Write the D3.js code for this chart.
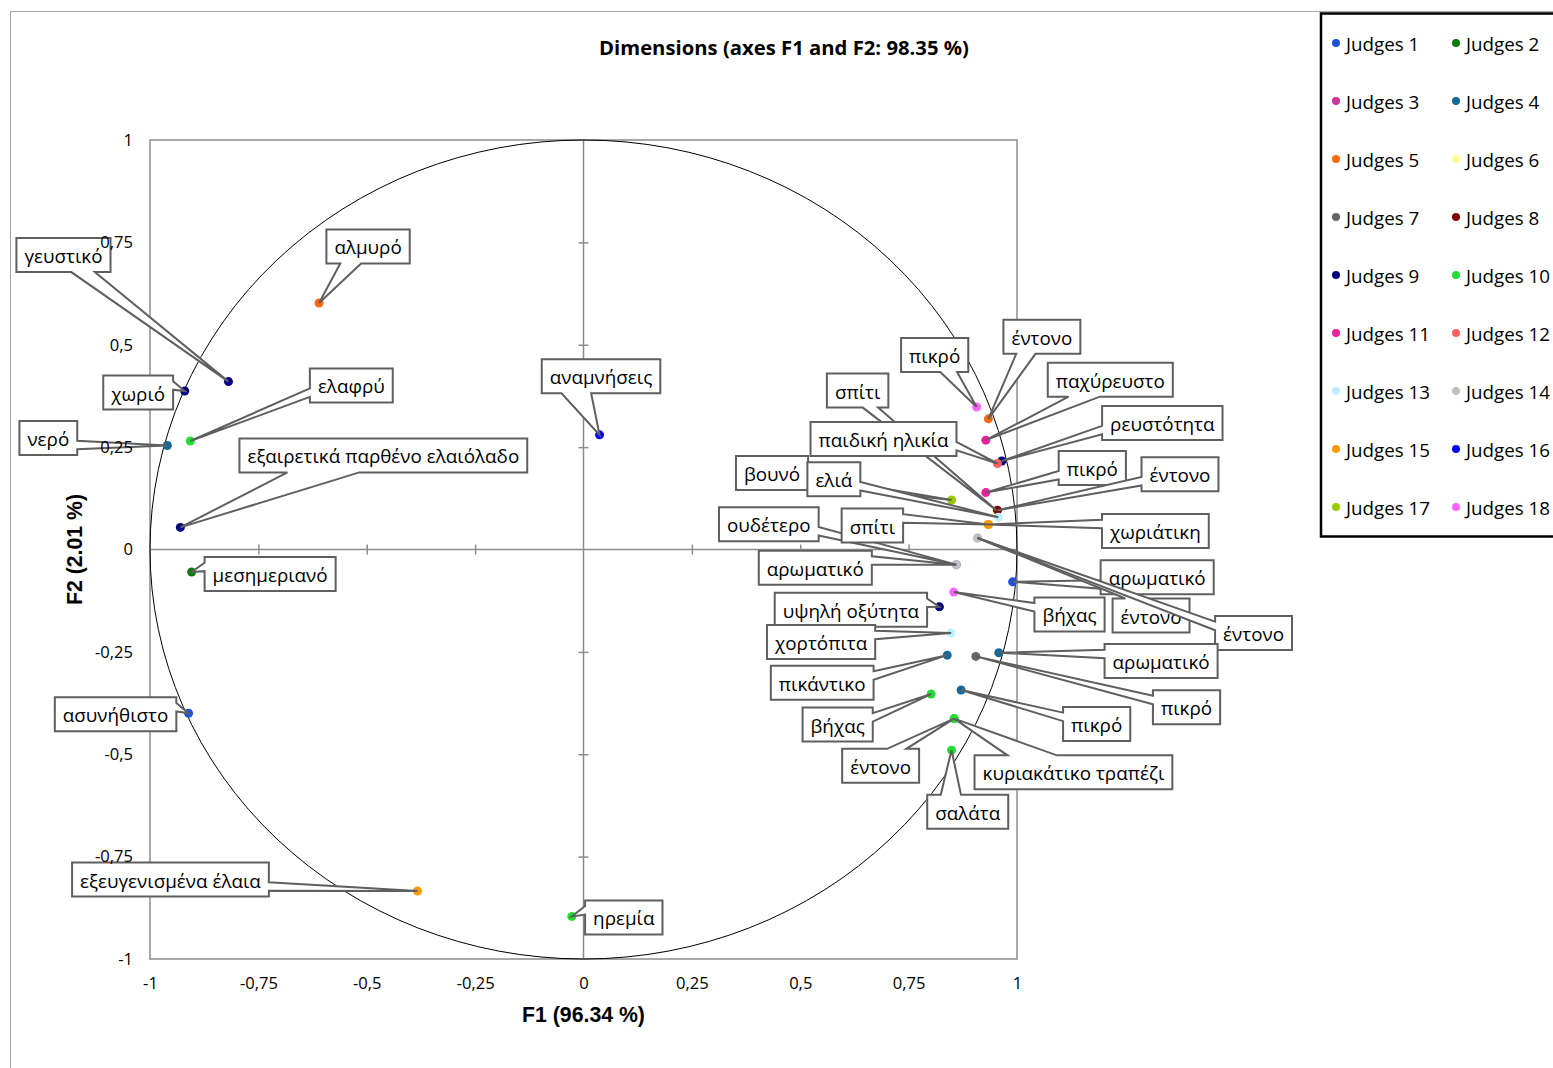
<!DOCTYPE html>
<html>
<head>
<meta charset="utf-8">
<script src="https://cdn.jsdelivr.net/npm/d3@7"></script>
<style>
  body { margin: 0; background: #fff; }
  svg { display: block; }
</style>
</head>
<body>
<div id="chart"></div>
<script>
// Judges (legend series)
const judges = ['Judges 1', 'Judges 2', 'Judges 3', 'Judges 4', 'Judges 5', 'Judges 6',
    'Judges 7', 'Judges 8', 'Judges 9', 'Judges 10', 'Judges 11', 'Judges 12',
    'Judges 13', 'Judges 14', 'Judges 15', 'Judges 16', 'Judges 17', 'Judges 18'];
const judgeColors = ['#2050e0', '#0b7b0b', '#cc3399', '#166a9a', '#ff6a10', '#ffff99',
    '#666666', '#800000', '#000080', '#22dd33', '#f0209a', '#ff6060',
    '#bbeeff', '#c0c0c0', '#ff9900', '#0000ff', '#99cc00', '#ff66ff'];

// words (one point each), the judge that gave it, and its coordinates on F1 / F2
const words = ['γευστικό', 'αλμυρό', 'χωριό', 'ελαφρύ', 'νερό', 'εξαιρετικά παρθένο ελαιόλαδο',
    'μεσημεριανό', 'ασυνήθιστο', 'εξευγενισμένα έλαια', 'ηρεμία', 'αναμνήσεις',
    'πικρό', 'έντονο', 'παχύρευστο', 'ρευστότητα', 'σπίτι', 'παιδική ηλικία', 'πικρό',
    'έντονο', 'βουνό', 'ελιά', 'ουδέτερο', 'χωριάτικη', 'σπίτι', 'αρωματικό', 'αρωματικό',
    'βήχας', 'έντονο', 'έντονο', 'υψηλή οξύτητα', 'χορτόπιτα', 'πικάντικο', 'αρωματικό',
    'πικρό', 'πικρό', 'βήχας', 'έντονο', 'κυριακάτικο τραπέζι', 'σαλάτα'];
const judgeOf = [9, 5, 9, 10, 4, 9,
    2, 1, 15, 10, 16,
    18, 5, 11, 9, 6, 12, 11,
    8, 17, 13, 3, 15, 15, 14, 1,
    18, 14, 14, 9, 13, 4, 4,
    7, 4, 10, 10, 10, 10];
const f1 = [-0.819, -0.610, -0.920, -0.907, -0.960, -0.930,
    -0.904, -0.911, -0.383, -0.027, 0.037,
    0.907, 0.934, 0.928, 0.965, 0.953, 0.955, 0.928,
    0.955, 0.849, 0.957, 0.860, 0.934, 0.934, 0.860, 0.990,
    0.854, 0.909, 0.909, 0.821, 0.848, 0.839, 0.958,
    0.905, 0.871, 0.802, 0.855, 0.855, 0.849];
const f2 = [0.410, 0.602, 0.387, 0.265, 0.254, 0.054,
    -0.055, -0.400, -0.834, -0.896, 0.280,
    0.348, 0.319, 0.267, 0.216, 0.095, 0.210, 0.139,
    0.096, 0.121, 0.079, -0.037, 0.061, 0.061, -0.037, -0.079,
    -0.104, 0.028, 0.028, -0.140, -0.204, -0.258, -0.252,
    -0.261, -0.343, -0.353, -0.413, -0.413, -0.490];

// where each callout box sits, centre relative to its point (px)
const labelOffset = [[-165, -126.5], [49, -56.5], [-46.5, 1.5], [161, -55.5], [-119, -7.5], [203, -72],
    [78.5, 2], [-73, 1], [-247, -11.5], [52, 1], [1.5, -58.5],
    [-42, -52], [53.5, -82], [124.5, -60.5], [160.5, -38], [-139, -120], [-114, -24.5], [106.5, -24.5],
    [182.5, -36], [-179.5, -27], [-164.5, -38], [-187.5, -40.5], [167, 6.5], [-116, 1], [-141, 3], [144.5, -4.5],
    [115.8, 22.3], [173.5, 77.5], [276, 95], [-88.5, 3], [-130, 9], [-125, 27.5], [162.3, 8.3],
    [210.7, 50.8], [135.6, 34], [-93.5, 30.5], [-73.5, 47.2], [119.3, 53.7], [16.2, 61.5]];

const axisTicks = [-1, -0.75, -0.5, -0.25, 0, 0.25, 0.5, 0.75, 1];
const innerTicks = [-0.75, -0.5, -0.25, 0.25, 0.5, 0.75];

const width = 1553, height = 1068;
const plot = { left: 150, right: 1017, top: 140, bottom: 959 };
const FONT = '"Open Sans", "Noto Sans", sans-serif';
const NARROW = '"Liberation Sans Narrow", "Liberation Sans", Arial, sans-serif';

const svg = d3.select('#chart').append('svg')
    .attr('width', width)
    .attr('height', height);

// pick a font size so the text gets the width it has in the reference
function fitSize(text, family, weight, target) {
    const t = svg.append('text')
        .style('font-family', family).style('font-weight', weight).style('font-size', '100px')
        .text(text);
    const w = t.node().getComputedTextLength();
    t.remove();
    return 100 * target / w;
}

const x = d3.scaleLinear().domain([-1, 1]).range([plot.left, plot.right]);
const y = d3.scaleLinear().domain([-1, 1]).range([plot.bottom, plot.top]);

const fmt = d3.formatLocale({ decimal: ',', thousands: '.', grouping: [3], currency: ['', ''], minus: '-' }).format('~g');

// chart area border (only top / left visible)
svg.append('rect')
    .attr('x', 10.5).attr('y', 11.5)
    .attr('width', 1700).attr('height', 1200)
    .attr('fill', 'none').attr('stroke', '#a6a6a6');

// title
svg.append('text')
    .attr('x', 784).attr('y', 47)
    .attr('text-anchor', 'middle').attr('dominant-baseline', 'central')
    .style('font-family', FONT).style('font-weight', 'bold')
    .style('font-size', fitSize('Dimensions (axes F1 and F2: 98.35 %)', FONT, 'bold', 370) + 'px')
    .text('Dimensions (axes F1 and F2: 98.35 %)');

// plot frame
svg.append('rect')
    .attr('x', x(-1)).attr('y', y(1))
    .attr('width', x(1) - x(-1)).attr('height', y(-1) - y(1))
    .attr('fill', 'none').attr('stroke', '#8c8c8c').attr('stroke-width', 1.5);

// zero lines
svg.append('line')
    .attr('x1', x(-1)).attr('x2', x(1)).attr('y1', y(0)).attr('y2', y(0))
    .attr('stroke', '#8c8c8c').attr('stroke-width', 1.5);
svg.append('line')
    .attr('x1', x(0)).attr('x2', x(0)).attr('y1', y(1)).attr('y2', y(-1))
    .attr('stroke', '#8c8c8c').attr('stroke-width', 1.5);

// tick marks crossing the zero lines
const xTickG = svg.append('g')
    .attr('transform', 'translate(0,' + (y(0) - 5) + ')')
    .call(d3.axisBottom(x).tickValues(innerTicks).tickSize(10).tickFormat(''));
xTickG.select('.domain').remove();
const yTickG = svg.append('g')
    .attr('transform', 'translate(' + (x(0) - 5) + ',0)')
    .call(d3.axisRight(y).tickValues(innerTicks).tickSize(10).tickFormat(''));
yTickG.select('.domain').remove();
svg.selectAll('.tick line').attr('stroke', '#8c8c8c').attr('stroke-width', 1.5);

// unit circle
svg.append('ellipse')
    .attr('cx', x(0)).attr('cy', y(0))
    .attr('rx', x(1) - x(0)).attr('ry', y(0) - y(1))
    .attr('fill', 'none').attr('stroke', '#000').attr('stroke-width', 1);

// points
const pts = words.map((w, i) => ({
    word: w, judge: judgeOf[i], px: x(f1[i]), py: y(f2[i]), off: labelOffset[i]
}));

svg.append('g')
    .selectAll('circle')
    .data(pts)
    .enter().append('circle')
    .attr('cx', d => d.px)
    .attr('cy', d => d.py)
    .attr('r', 4.5)
    .attr('fill', d => judgeColors[d.judge - 1]);

// Excel style wedge callouts
function wedgePath(l, t, w, h, tx, ty) {
    const r = l + w, b = t + h;
    const dx = tx - (l + w / 2), dy = ty - (t + h / 2);
    const dz = Math.abs(dy) - Math.abs(dx * h / w);
    const x1 = l + w * (dx > 0 ? 7 : 2) / 12, x2 = l + w * (dx > 0 ? 10 : 5) / 12;
    const y1 = t + h * (dy > 0 ? 7 : 2) / 12, y2 = t + h * (dy > 0 ? 10 : 5) / 12;
    let p;
    if (dz > 0) {
        p = dy < 0
            ? [[l, t], [x1, t], [tx, ty], [x2, t], [r, t], [r, b], [l, b]]
            : [[l, t], [r, t], [r, b], [x2, b], [tx, ty], [x1, b], [l, b]];
    } else {
        p = dx > 0
            ? [[l, t], [r, t], [r, y1], [tx, ty], [r, y2], [r, b], [l, b]]
            : [[l, t], [r, t], [r, b], [l, b], [l, y2], [tx, ty], [l, y1]];
    }
    return 'M' + p.map(q => q.join(',')).join('L') + 'Z';
}

const labelSize = fitSize('εξαιρετικά παρθένο ελαιόλαδο', FONT, 'normal', 272);
const boxH = 34, pad = 8;

const callouts = svg.append('g')
    .selectAll('g')
    .data(pts)
    .enter().append('g');

callouts.each(function (d) {
    const g = d3.select(this);
    const txt = g.append('text')
        .style('font-family', FONT).style('font-size', labelSize + 'px')
        .attr('text-anchor', 'middle').attr('dominant-baseline', 'central')
        .text(d.word);
    const bw = txt.node().getComputedTextLength() + 2 * pad;
    const cx = d.px + d.off[0], cy = d.py + d.off[1];
    g.insert('path', 'text')
        .attr('d', wedgePath(cx - bw / 2, cy - boxH / 2, bw, boxH, d.px, d.py))
        .attr('fill', '#fff')
        .attr('stroke', '#5f5f5f')
        .attr('stroke-width', 2)
        .attr('stroke-linejoin', 'miter');
    txt.attr('x', cx).attr('y', cy + 1);
});

// tick labels
const tickSize = fitSize('-0,75', FONT, 'normal', 38);
const xLab = svg.append('g')
    .attr('transform', 'translate(0,' + plot.bottom + ')')
    .call(d3.axisBottom(x).tickValues(axisTicks).tickSize(0).tickPadding(18).tickFormat(fmt));
const yLab = svg.append('g')
    .attr('transform', 'translate(' + plot.left + ',0)')
    .call(d3.axisLeft(y).tickValues(axisTicks).tickSize(0).tickPadding(17).tickFormat(fmt));
[xLab, yLab].forEach(g => {
    g.select('.domain').remove();
    g.selectAll('text')
        .attr('fill', '#000')
        .style('font-family', FONT).style('font-size', tickSize + 'px');
});

// axis titles
svg.append('text')
    .attr('x', x(0)).attr('y', 1015)
    .attr('text-anchor', 'middle').attr('dominant-baseline', 'central')
    .style('font-family', NARROW).style('font-weight', 'bold')
    .style('font-size', fitSize('F1 (96.34 %)', NARROW, 'bold', 123) + 'px')
    .text('F1 (96.34 %)');
svg.append('text')
    .attr('transform', 'translate(75,' + y(0) + ') rotate(-90)')
    .attr('text-anchor', 'middle').attr('dominant-baseline', 'central')
    .style('font-family', NARROW).style('font-weight', 'bold')
    .style('font-size', fitSize('F2 (2.01 %)', NARROW, 'bold', 111) + 'px')
    .text('F2 (2.01 %)');

// legend
svg.append('rect')
    .attr('x', 1321).attr('y', 13.5)
    .attr('width', 260).attr('height', 523)
    .attr('fill', '#fff').attr('stroke', '#000').attr('stroke-width', 2.5);

const legSize = fitSize('Judges 18', FONT, 'normal', 84);
const leg = svg.append('g')
    .selectAll('g')
    .data(judges)
    .enter().append('g')
    .attr('transform', (d, i) => 'translate(' + (1336 + (i % 2) * 120) + ',' + (43 + Math.floor(i / 2) * 58) + ')');
leg.append('circle')
    .attr('r', 4)
    .attr('fill', (d, i) => judgeColors[i]);
leg.append('text')
    .attr('x', 10).attr('dominant-baseline', 'central')
    .style('font-family', FONT).style('font-size', legSize + 'px')
    .text(d => d);
</script>
</body>
</html>
